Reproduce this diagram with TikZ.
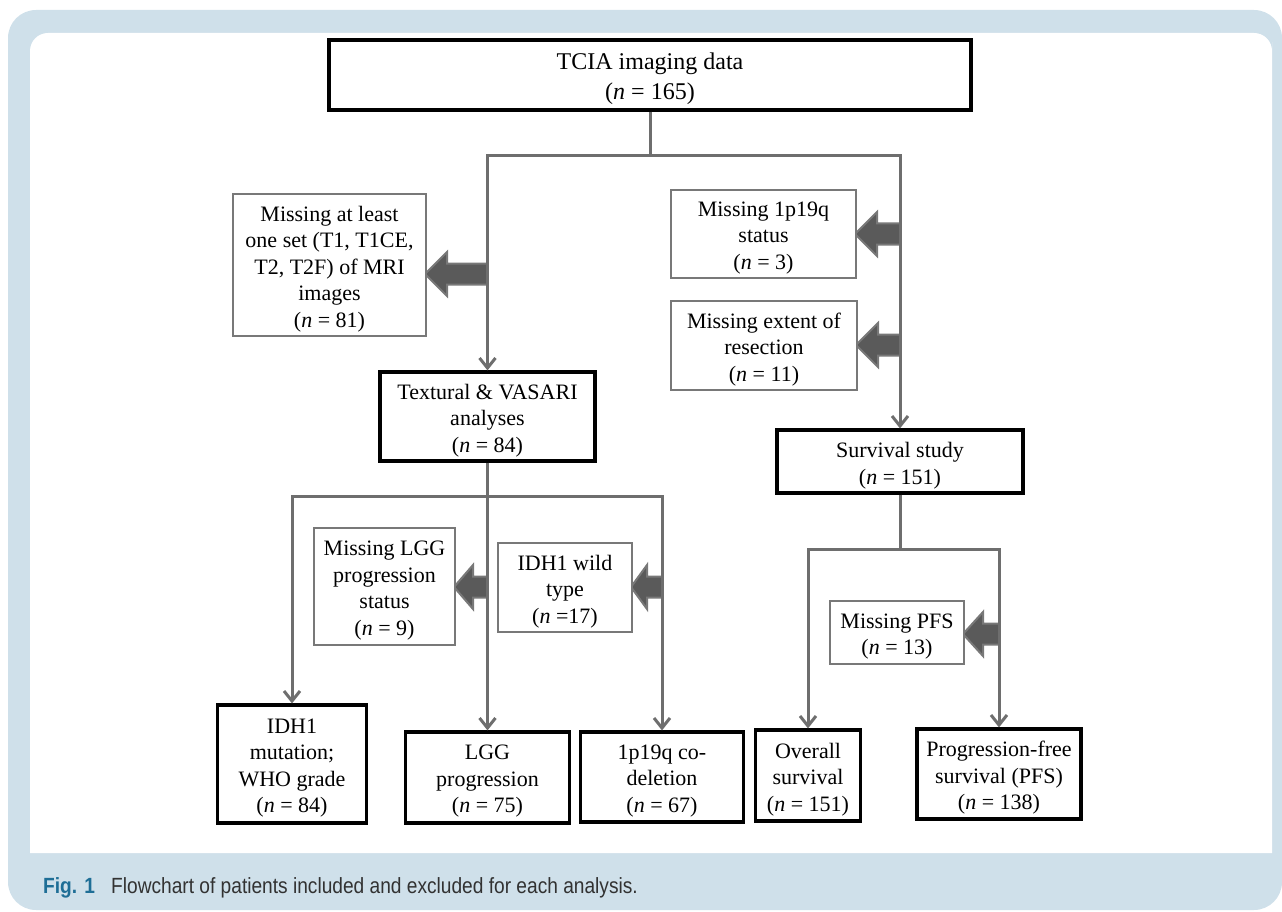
\documentclass[tikz,border=0pt]{standalone}
\usepackage{fontspec}
\setmainfont{Liberation Serif}
\newfontfamily\capfont[FakeStretch=0.87]{Liberation Sans}
\usetikzlibrary{arrows.meta}
\definecolor{bandblue}{RGB}{207,224,234}
\definecolor{figblue}{RGB}{30,110,150}
\definecolor{capgray}{RGB}{50,50,50}
\definecolor{linegray}{RGB}{110,110,110}
\definecolor{boxgray}{RGB}{120,120,120}
\definecolor{arrowfill}{RGB}{90,90,90}
\newcommand\blockarr[4]{\draw[barrow] (#1,#3) -- (#1+#4,#3-22) -- (#1+#4,#3-10.5) -- (#2,#3-10.5) -- (#2,#3+10.5) -- (#1+#4,#3+10.5) -- (#1+#4,#3+22) -- cycle;}
% #1 style, #2 name, #3 x, #4 y, #5 width, #6 height, #7 text
\newcommand\fbx[7]{\node[#1, minimum width=#5pt, minimum height=#6pt] (#2) at (#3,#4) {};
  \node[txt] (#2t) at ([yshift=-4pt]#2.center) {#7};}
\begin{document}
\begin{tikzpicture}[x=1pt,y=-1pt,
  inbox/.style={draw=black, line width=3.2pt, fill=white, inner sep=0pt},
  exbox/.style={draw=boxgray, line width=2.8pt, fill=white, inner sep=0pt},
  txt/.style={inner sep=0pt, align=center, font=\fontsize{22}{26.5}\selectfont},
  conn/.style={draw=linegray, line width=3pt},
  hconn/.style={conn, line cap=rect},
  arr/.style={conn, -{Straight Barb[length=10pt,width=16pt]}},
  barrow/.style={fill=arrowfill, draw=boxgray, line width=2pt, line join=miter}]
\useasboundingbox (0,0) rectangle (1282,912);
% background
\fill[bandblue, rounded corners=28pt] (8,10) rectangle (1282,910);
\fill[white] (30,853) -- (30,60) [rounded corners=18pt] -- (30,33) -- (1272,33) -- (1272,60) [sharp corners] -- (1272,853) -- cycle;
% caption
\node[anchor=base west, inner sep=0pt, font=\capfont\fontsize{22}{24}\selectfont\bfseries, text=figblue] (figlab) at (43,893) {Fig. 1};
\node[anchor=base west, inner sep=0pt, font=\capfont\fontsize{22}{24}\selectfont, text=capgray] (captxt) at (111,893) {Flowchart of patients included and excluded for each analysis.};
% block arrows
\blockarr{425}{487.5}{274}{22}
\blockarr{855}{900}{234}{22}
\blockarr{856}{900}{345}{22}
\blockarr{454}{487.5}{587}{19}
\blockarr{631}{662}{587}{16}
\blockarr{963}{999}{634}{20}
% nodes
\node[inbox, minimum width=642pt, minimum height=70pt] (tcia) at (650,75) {};
\node[txt, font=\fontsize{24}{30}\selectfont] (tciat) at ([yshift=-4pt]tcia.center) {TCIA imaging data\\(\textit{n} = 165)};
\fbx{exbox}{miss1}{329.5}{265}{193}{142}{Missing at least\\one set (T1, T1CE,\\T2, T2F) of MRI\\images\\(\textit{n} = 81)}
\fbx{exbox}{m1p}{763.5}{234}{185}{88}{Missing 1p19q\\status\\(\textit{n} = 3)}
\fbx{exbox}{mext}{764}{345.5}{186}{89}{Missing extent of\\resection\\(\textit{n} = 11)}
\fbx{inbox}{tex}{487.5}{416.5}{215}{89}{Textural \& VASARI\\analyses\\(\textit{n} = 84)}
\fbx{inbox}{surv}{900}{461.5}{246}{63}{Survival study\\(\textit{n} = 151)}
\fbx{exbox}{mlgg}{384.5}{586.5}{141}{117}{Missing LGG\\progression\\status\\(\textit{n} = 9)}
\fbx{exbox}{idhw}{565}{587.5}{134}{89}{IDH1 wild\\type\\(\textit{n} =17)}
\fbx{exbox}{mpfs}{897}{632.5}{134}{63}{Missing PFS\\(\textit{n} = 13)}
\fbx{inbox}{idhm}{292}{764}{149}{118}{IDH1\\mutation;\\WHO grade\\(\textit{n} = 84)}
\fbx{inbox}{lgg}{487.5}{777.5}{164}{91}{LGG\\progression\\(\textit{n} = 75)}
\fbx{inbox}{codel}{662}{777}{163}{90}{1p19q co-\\deletion\\(\textit{n} = 67)}
\fbx{inbox}{os}{808}{775.5}{105}{91}{Overall\\survival\\(\textit{n} = 151)}
\fbx{inbox}{pfs}{999}{774}{164}{90}{Progression-free\\survival (PFS)\\(\textit{n} = 138)}
% connectors
\coordinate (jL) at (487.5,156);
\coordinate (jR) at (900,156);
\draw[conn] (tcia.south) -- (tcia.south |- jL);
\draw[hconn] (jL) -- (jR);
\draw[arr] (jL) -- (tex.north);
\draw[arr] (jR) -- (surv.north);
\coordinate (kL) at (292,496);
\coordinate (kM) at (487.5,496);
\coordinate (kR) at (662,496);
\draw[conn] (tex.south) -- (kM);
\draw[hconn] (kL) -- (kR);
\draw[arr] (kL) -- (idhm.north);
\draw[arr] (kM) -- (lgg.north);
\draw[arr] (kR) -- (codel.north);
\coordinate (sL) at (808,549);
\coordinate (sR) at (999,549);
\draw[conn] (surv.south) -- (surv.south |- sL);
\draw[hconn] (sL) -- (sR);
\draw[arr] (sL) -- (os.north);
\draw[arr] (sR) -- (pfs.north);
\end{tikzpicture}
\end{document}
